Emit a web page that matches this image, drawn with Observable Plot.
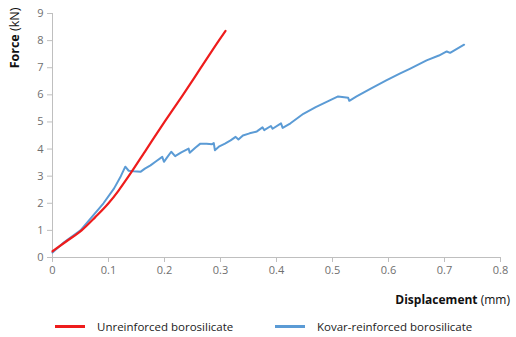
<!DOCTYPE html>
<html><head><meta charset="utf-8">
<script src="https://cdn.jsdelivr.net/npm/d3@7"></script>
<script src="https://cdn.jsdelivr.net/npm/@observablehq/plot@0.6"></script>
<style>
body{margin:0;background:#fff;font-family:"Open Sans",sans-serif;}
#legend{position:relative;height:25px;width:516px;font-size:11.5px;color:#222;}
.item{position:absolute;top:7px;display:flex;align-items:center;}
.sw{display:inline-block;width:30px;height:3px;margin-right:12px;}
</style></head>
<body>
<div id="chart"></div>
<div id="legend"></div>
<script>
const seriesNames = ["Unreinforced borosilicate", "Kovar-reinforced borosilicate"];
const seriesColors = ["#ee1c1c", "#5b9bd5"];
const xTicks = [0, 0.1, 0.2, 0.3, 0.4, 0.5, 0.6, 0.7, 0.8];
const yTicks = [0, 1, 2, 3, 4, 5, 6, 7, 8, 9];

const unreinforcedX = [0, 0.025, 0.052, 0.076, 0.1, 0.118, 0.136, 0.168, 0.2, 0.233, 0.265, 0.297, 0.309];
const unreinforcedY = [0.23, 0.6, 1.0, 1.48, 2.0, 2.47, 3.0, 4.0, 5.0, 6.0, 7.0, 8.0, 8.36];

const kovarX = [0, 0.02, 0.05, 0.091, 0.11, 0.122, 0.13, 0.136, 0.145, 0.157, 0.165, 0.175, 0.185, 0.196, 0.199, 0.205, 0.212, 0.219, 0.23, 0.243, 0.245, 0.255, 0.264, 0.275, 0.285, 0.288, 0.29, 0.298, 0.308, 0.318, 0.327, 0.332, 0.34, 0.352, 0.365, 0.375, 0.378, 0.39, 0.393, 0.408, 0.411, 0.425, 0.448, 0.47, 0.51, 0.528, 0.53, 0.543, 0.57, 0.596, 0.62, 0.638, 0.668, 0.69, 0.704, 0.71, 0.735];
const kovarY = [0.18, 0.55, 1.0, 2.0, 2.55, 3.0, 3.35, 3.2, 3.18, 3.16, 3.28, 3.4, 3.55, 3.71, 3.53, 3.7, 3.9, 3.74, 3.88, 4.02, 3.86, 4.05, 4.2, 4.2, 4.18, 4.22, 3.96, 4.1, 4.2, 4.32, 4.45, 4.35, 4.5, 4.58, 4.65, 4.8, 4.7, 4.85, 4.75, 4.95, 4.78, 4.95, 5.3, 5.55, 5.94, 5.89, 5.78, 5.94, 6.25, 6.53, 6.78, 6.96, 7.27, 7.45, 7.6, 7.55, 7.85];

const unreinforced = unreinforcedX.map((x, i) => ({x, y: unreinforcedY[i]}));
const kovar = kovarX.map((x, i) => ({x, y: kovarY[i]}));

const axisGray = "#bfbfbf";
const labelGray = "#6f6f6f";

const plot = Plot.plot({
  width: 516, height: 312,
  marginLeft: 52, marginRight: 16, marginTop: 13, marginBottom: 55,
  style: {fontFamily: "Open Sans, sans-serif", fontSize: "11px", background: "#fff"},
  x: {domain: [0, 0.8]},
  y: {domain: [0, 9]},
  marks: [
    Plot.ruleY([0], {stroke: axisGray, strokeWidth: 1}),
    Plot.ruleX([0], {stroke: axisGray, strokeWidth: 1}),
    Plot.axisX({ticks: xTicks, tickSize: 5, tickPadding: 4, stroke: axisGray, fill: labelGray, label: null, tickFormat: d => String(d)}),
    Plot.axisY({ticks: yTicks, tickSize: 5, tickPadding: 4, stroke: axisGray, fill: labelGray, label: null}),
    Plot.line(kovar, {x: "x", y: "y", stroke: seriesColors[1], strokeWidth: 2, curve: "linear"}),
    Plot.line(unreinforced, {x: "x", y: "y", stroke: seriesColors[0], strokeWidth: 2.2, curve: "monotone-x"}),
  ]
});
document.getElementById("chart").appendChild(plot);

const svg = d3.select(plot);
const xt = svg.append("text").attr("x", 510).attr("y", 304).attr("text-anchor", "end")
  .attr("font-size", 12).attr("fill", "#111").attr("font-family", "Open Sans, sans-serif");
xt.append("tspan").attr("font-weight", "bold").text("Displacement");
xt.append("tspan").text(" (mm)");
const yt = svg.append("text").attr("transform", "translate(19,38) rotate(-90)").attr("text-anchor", "middle")
  .attr("font-size", 12.5).attr("fill", "#111").attr("font-family", "Open Sans, sans-serif");
yt.append("tspan").attr("font-weight", "bold").text("Force");
yt.append("tspan").text(" (kN)");

const lg = d3.select("#legend");
const lx = [55, 275];
seriesNames.forEach((n, i) => {
  const it = lg.append("div").attr("class", "item").style("left", lx[i] + "px");
  it.append("span").attr("class", "sw").style("background", seriesColors[i]);
  it.append("span").text(n);
});
</script>
</body></html>
